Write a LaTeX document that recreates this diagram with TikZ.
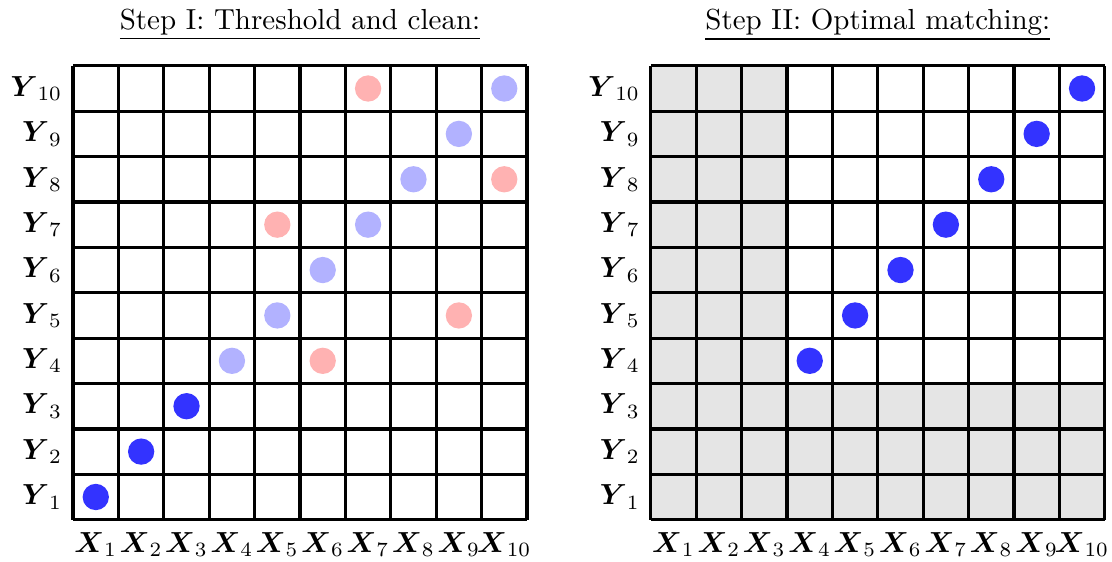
\documentclass[tikz,border=0pt]{standalone}
\usepackage{amsmath,amssymb}
\usepackage{tikz}

\begin{document}
\begin{tikzpicture}[
    x=0.55cm, y=0.55cm,
    gridline/.style={draw=black, line width=1.1pt, step=0.55cm},
    masked/.style={fill=gray!20},
    matched/.style={fill=blue!80},
    kept/.style={fill=blue!30},
    dropped/.style={fill=red!30},
    rowlab/.style={anchor=east, inner sep=2pt},
    collab/.style={anchor=base, inner sep=0pt},
    heading/.style={anchor=base, inner sep=0pt}
]
\useasboundingbox (-1.61,-0.93) rectangle (22.89,11.45);

% Step I: threshold and clean (left board)
\node[heading] (titleA) at (5,10.81) {\underline{Step I: Threshold and clean:}};
\draw[gridline] (0,0) grid (10,10);
\foreach \i in {1,...,10} {
    \node[rowlab] (ya\i) at (-0.1,\i-0.5) {$\boldsymbol{Y}_{\i}$};
    \node[collab] (xa\i) at (\i-0.5,-0.72) {$\boldsymbol{X}_{\i}$};
}
% kept diagonal
\foreach \c/\r in {1/1, 2/2, 3/3}
    \fill[matched] (\c-0.5,\r-0.5) circle (0.29);
% weak candidates
\foreach \c/\r in {4/4, 5/5, 6/6, 7/7, 8/8, 9/9, 10/10}
    \fill[kept] (\c-0.5,\r-0.5) circle (0.29);
% removed entries
\foreach \c/\r in {6/4, 9/5, 5/7, 10/8, 7/10}
    \fill[dropped] (\c-0.5,\r-0.5) circle (0.29);

% Step II: optimal matching (right board)
\begin{scope}[shift={(12.73,0)}]
\node[heading] (titleB) at (5,10.81) {\underline{Step II: Optimal matching:}};
\fill[masked] (0,0) rectangle (3,10);
\fill[masked] (0,0) rectangle (10,3);
\draw[gridline] (0,0) grid (10,10);
\foreach \i in {1,...,10} {
    \node[rowlab] (yb\i) at (-0.1,\i-0.5) {$\boldsymbol{Y}_{\i}$};
    \node[collab] (xb\i) at (\i-0.5,-0.72) {$\boldsymbol{X}_{\i}$};
}
\foreach \i in {4,...,10}
    \fill[matched] (\i-0.5,\i-0.5) circle (0.29);
\end{scope}

\end{tikzpicture}
\end{document}
